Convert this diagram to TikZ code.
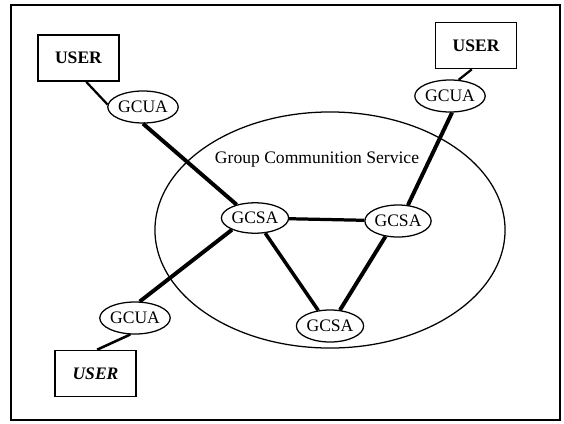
\documentclass[tikz,border=0pt]{standalone}
\usepackage{fontspec}
\setmainfont{Liberation Serif}
\usetikzlibrary{shapes.geometric}

\begin{document}
\begin{tikzpicture}[x=0.025cm, y=-0.025cm,
  every node/.style={font=\fontsize{12.5}{14}\selectfont},
  user/.style={draw, line width=1.2pt, minimum width=2.02cm, minimum height=1.15cm, inner sep=0pt, font=\fontsize{12.5}{14}\selectfont\bfseries},
  agent/.style={draw, ellipse, line width=0.9pt, minimum width=1.6cm, minimum height=0.8cm, inner sep=0pt},
  conn/.style={line width=1.6pt},
  bus/.style={line width=2.8pt}]
\useasboundingbox (0,0) rectangle (564,423);
\draw[line width=1.1pt] (11,5) rectangle (560,420);
% service area
\node[draw, ellipse, line width=0.9pt, minimum width=8.75cm, minimum height=5.9cm] (gcs) at (330,230) {};
\node (lbl) at (317,160) {Group Communition Service};
% users and their agents
\node[user] (u1) at (78.5,58) {USER};
\node[user] (u2) at (476,45.5) {USER};
\node[user] (u3) at (95.5,373.5) {\itshape USER};
\node[agent, minimum width=1.65cm] (a1) at (143,107) {GCUA};
\node[agent, minimum width=1.5cm] (a2) at (450,96) {GCUA};
\node[agent] (a3) at (135,318) {GCUA};
% service agents
\node[agent, minimum width=1.68cm, minimum height=0.76cm] (s1) at (255,218) {GCSA};
\node[agent, minimum width=1.58cm] (s2) at (398,221) {GCSA};
\node[agent, minimum width=1.68cm] (s3) at (330,326) {GCSA};
\draw[conn] (u1.-72) -- (a1.176);
\draw[bus] (a1.270) -- (s1.144);
\draw[conn] (u2.260) -- (a2.62);
\draw[bus] (a2.277) -- (s2.58);
\draw[bus, line width=2.3pt] (s1) -- (s2);
\draw[bus, line width=2.5pt] (s1.304) -- (s3.127);
\draw[bus] (s2.231) -- (s3.58);
\draw[bus] (s1.207) -- (a3.74);
\draw[conn, line width=1.8pt] (a3.254) -- (u3.86);
\end{tikzpicture}
\end{document}
